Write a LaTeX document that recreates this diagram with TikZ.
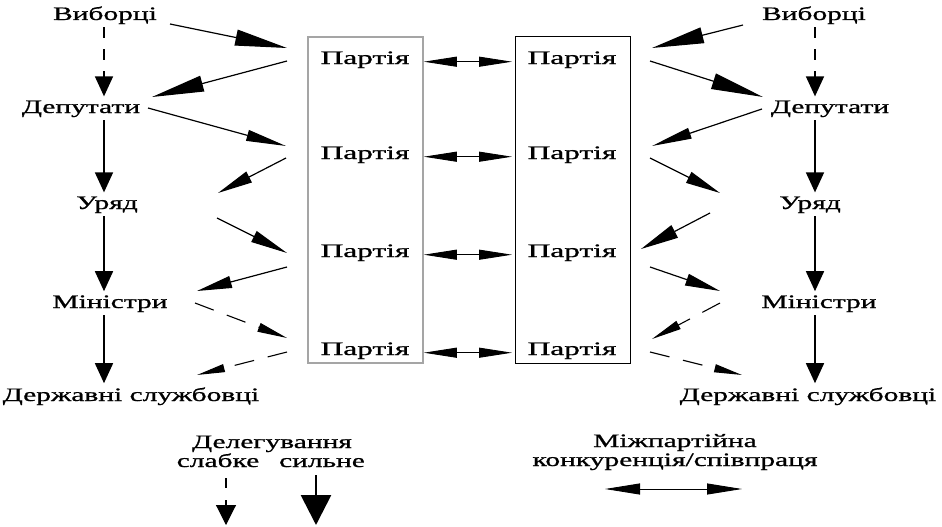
\documentclass[tikz,border=0pt]{standalone}
\usepackage{fontspec}
\setmainfont{Liberation Serif}[FakeBold=0.7]
\usepackage{tikz}
\usetikzlibrary{arrows.meta, positioning, calc}
\definecolor{boxgray}{RGB}{165,165,165}

\begin{document}
\begin{tikzpicture}[x=1pt, y=-1pt,
    lbl/.style={font=\fontsize{19}{21}\selectfont, xscale=1.55, inner sep=0pt, anchor=base},
    partylbl/.style={lbl, xscale=1.65/1.55},
    column/.style={draw, line width=1pt, minimum width=115pt, minimum height=326pt, inner sep=0pt},
    arrowhd/.style 2 args={-{Triangle[length=#1pt, width=#2pt]}},
    deleg/.style={line width=1.2pt},
    weak/.style={line width=1.1pt, dash pattern=on 20pt off 14pt},
    vert/.style={line width=1.6pt, shorten <=3pt, shorten >=4pt, arrowhd={20}{18}},
    rivalry/.style={line width=0.9pt,
      {Triangle[length=33pt, width=10pt]}-{Triangle[length=33pt, width=10pt]}}
  ]

  \useasboundingbox (0,0) rectangle (942,527);

  % Party columns
  \node[column, draw=boxgray, line width=1.6pt] (colL) at (365.5,200) {};
  \node[column] (colR) at (573,200) {};

  \foreach \y [count=\i] in {64,159,257,355} {
    \node[partylbl] (pL\i) at (365,\y) {Партія};
    \node[partylbl] (pR\i) at (572,\y) {Партія};
    \draw[rivalry] (colL.east |- pL\i.mid) -- ([xshift=-3pt]colR.west |- pR\i.mid);
  }

  % Left chain
  \node[lbl] (vybL) at (105,20) {Виборці};
  \node[lbl] (depL) at (81,113) {Депутати};
  \node[lbl] (uryadL) at (107,209) {Уряд};
  \node[lbl] (minL) at (110,308) {Міністри};
  \node[lbl] (derzhL) at (131,401) {Державні службовці};
  \coordinate (axL) at (104,0);

  \draw[vert, dash pattern=on 11pt off 11pt] (axL |- vybL.south) -- (axL |- depL.north);
  \draw[vert] (axL |- depL.south) -- (axL |- uryadL.north);
  \draw[vert] (axL |- uryadL.south) -- (axL |- minL.north);
  \draw[vert] (axL |- minL.south) -- (axL |- derzhL.north);

  % Right chain
  \node[lbl] (vybR) at (814,20) {Виборці};
  \node[lbl] (depR) at (830,113) {Депутати};
  \node[lbl] (uryadR) at (810,209) {Уряд};
  \node[lbl] (minR) at (819,308) {Міністри};
  \node[lbl] (derzhR) at (808,401) {Державні службовці};
  \coordinate (axR) at (815,0);

  \draw[vert, dash pattern=on 11pt off 11pt] (axR |- vybR.south) -- (axR |- depR.north);
  \draw[vert] (axR |- depR.south) -- (axR |- uryadR.north);
  \draw[vert] (axR |- uryadR.south) -- (axR |- minR.north);
  \draw[vert] (axR |- minR.south) -- (axR |- derzhR.north);

  % Delegation arrows, left side
  \coordinate (sL1) at (170,24);  \coordinate (eL1) at (287,48);
  \coordinate (sL2) at (287,61);  \coordinate (eL2) at (152,97);
  \coordinate (sL3) at (148,108); \coordinate (eL3) at (286,146);
  \coordinate (sL4) at (286,158); \coordinate (eL4) at (218,193);
  \coordinate (sL5) at (217,218); \coordinate (eL5) at (287,253);
  \coordinate (sL6) at (287,267); \coordinate (eL6) at (197,291);
  \coordinate (sL7) at (195,303); \coordinate (eL7) at (287,338);
  \coordinate (sL8) at (287,352); \coordinate (eL8) at (197,375);

  % Delegation arrows, right side
  \coordinate (sR1) at (743,25);  \coordinate (eR1) at (652,48);
  \coordinate (sR2) at (650,61);  \coordinate (eR2) at (763,97);
  \coordinate (sR3) at (762,109); \coordinate (eR3) at (652,146);
  \coordinate (sR4) at (650,158); \coordinate (eR4) at (720,193);
  \coordinate (sR5) at (710,213); \coordinate (eR5) at (641,249);
  \coordinate (sR6) at (650,267); \coordinate (eR6) at (720,291);
  \coordinate (sR7) at (720,303); \coordinate (eR7) at (652,339);
  \coordinate (sR8) at (650,352); \coordinate (eR8) at (742,375);

  \foreach \s/\k/\len/\wid in {L/1/52/16, L/2/52/16, L/3/40/11, L/4/35/12,
                               L/5/37/12, L/6/35/12,
                               R/1/52/16, R/2/52/16, R/3/40/11, R/4/35/12,
                               R/5/38/14, R/6/35/12}
    \draw[deleg, arrowhd={\len}{\wid}] (s\s\k) -- (e\s\k);

  \foreach \s/\k/\len/\wid in {L/7/30/9, L/8/28/8, R/7/30/9, R/8/28/8}
    \draw[weak, arrowhd={\len}{\wid}] (s\s\k) -- (e\s\k);

  % Legend
  \node[lbl] (delTitle) at (272,448) {Делегування};
  \node[lbl] (weakLbl) at (218,467) {слабке};
  \node[lbl] (strongLbl) at (322,467) {сильне};
  \coordinate (weakEnd) at (226,525);
  \coordinate (strongEnd) at (316,525);
  \draw[line width=1.1pt, dash pattern=on 10pt off 12pt, shorten <=11pt,
        arrowhd={20}{20}] (weakLbl.south -| weakEnd) -- (weakEnd);
  \draw[line width=2.8pt, shorten <=8pt, arrowhd={30}{30}]
    (strongLbl.south -| strongEnd) -- (strongEnd);

  \node[lbl] (rivTitle) at (675,447) {Міжпартійна};
  \node[lbl] (rivSub) at (675,466) {конкуренція/співпраця};
  \coordinate (rivL) at (605,489);
  \coordinate (rivR) at (742,489);
  \draw[line width=0.9pt,
        {Triangle[length=35pt, width=11pt]}-{Triangle[length=35pt, width=11pt]}]
    (rivL) -- (rivR);

\end{tikzpicture}
\end{document}
